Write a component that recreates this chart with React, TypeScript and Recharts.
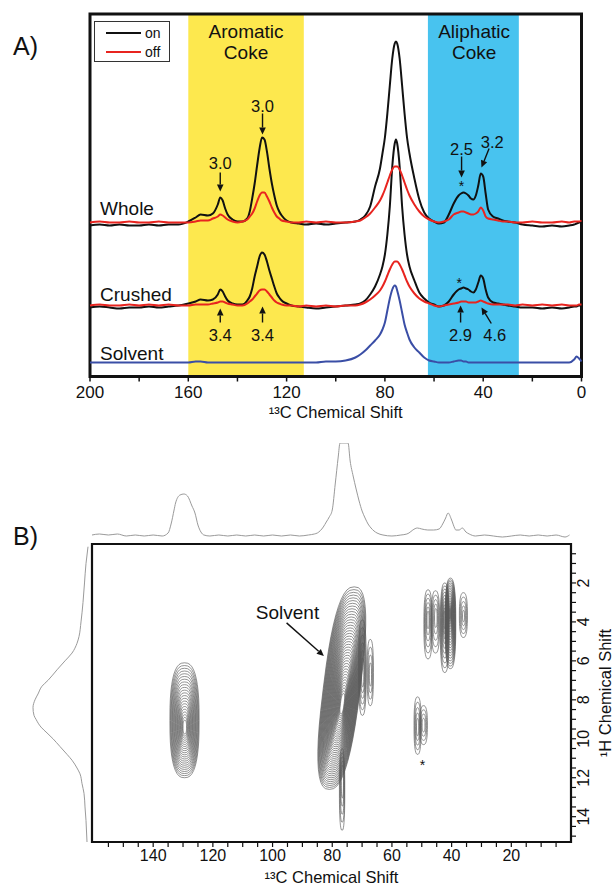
import React from 'react';
import {
  LineChart, Line, ComposedChart, Scatter, XAxis, YAxis,
  ReferenceArea, ReferenceDot, ReferenceLine, Legend,
} from 'recharts';

const FONT = '"Liberation Sans", Arial, Helvetica, sans-serif';
const INK = '#111111';
const YELLOW = '#FDE84E';
const CYAN = '#48C3EF';
const RED = '#E8241F';
const BLUE_LINE = '#3A4EA6';
const GREY = '#9a9a9a';
const CONTOUR = '#585858';

// ================= Panel A : 1D 13C spectra =================
// intensity of each trace above its own baseline
const ppmA = [200,196,192,188,184,180,176,172,168,164, 160,157,155,152,150,148,147,146,145,144,142,140, 138,136,135,134,133,132,131,130,129,128,127,126,125,124,123,122,120,118, 115,112,108,104,100,96, 92,90,88,86,84,82,81,80,79,78,77,76,75.5,75,74,73,72,71,70,68,66,64,62,60, 58,56,54,52,50,49,48,47,46,45,44,43,42,41,40,39,38, 36,34,32,30,27,24,20,16,12,8,5,3,2,1,0];
const wholeOn = [-2,-1,-2,-1,-2,-2,-1,-2,-1,-1, 2,6,9,8,10,19,26,23,15,9,4,2, 2,5,12,25,40,58,75,86,84,72,55,40,28,18,12,8,3,1, 0,-1,0,-1,0,1, 2,4,8,17,37,55,70,86,110,138,165,180,182,180,165,138,110,86,70,45,24,11,5,2, 0,1,9,20,28,30,31,30,28,25,24,28,38,50,47,30,14, 7,5,3,2,1,-1,-2,-3,-2,-3,-2,-1,0,1,2];
const wholeOff = [1,2,1,1,2,1,1,2,1,1, 1,2,3,3,5,7,9,8,6,4,2,1, 2,4,7,10,15,22,28,31,31,27,22,16,11,7,5,3,2,1, 1,2,1,2,1,1, 2,3,6,10,16,23,28,34,41,48,54,57,57,57,54,48,41,34,28,19,12,7,4,2, 1,2,4,9,11,12,12,11,10,9,9,10,12,16,13,7,5, 4,3,2,2,1,1,2,1,1,2,1,2,2,2,3];
const crushedOn = [-1,0,-1,-2,-1,-1,0,-1,0,1, 3,5,7,6,7,12,17,15,10,6,3,2, 2,6,10,18,30,40,50,54,52,45,36,28,20,13,9,6,3,1, 0,-1,-2,-1,0,1, 2,3,6,12,20,32,40,52,72,100,140,163,167,163,140,100,72,52,40,26,14,8,4,2, 0,1,5,12,17,18,19,18,17,15,14,17,24,31,28,17,9, 4,3,2,1,0,-1,-1,-2,-1,-2,-1,0,0,1,1];
const crushedOff = [1,2,1,1,2,1,2,1,2,1, 1,2,2,2,3,4,5,5,4,3,2,1, 1,3,5,7,10,13,16,17,17,15,12,9,6,4,3,2,1,1, 0,1,0,1,0,1, 1,2,4,7,11,16,20,25,31,37,42,45,45,45,42,37,31,25,20,13,8,5,3,1, 0,1,2,3,4,5,5,5,4,4,4,4,5,6,5,4,3, 2,2,2,2,1,2,1,2,1,2,1,1,1,2,2];
const solventTrace = [0,0,0,0,0,0,0,0,0,0, 0,1,1,0,0,0,0,0,0,0,0,0, 0,0,0,0,0,0,0,0,0,0,0,0,0,0,0,0,0,0, 0,0,0,1,1,2, 5,8,12,17,22,28,33,40,52,64,73,77,76,72,62,50,38,30,23,15,10,5,2,1, 0,0,0,1,2,2,1,1,0,0,0,0,0,0,0,0,0, 0,0,0,0,0,0,0,0,0,0,0,3,6,4,1];
const traceOffsets = { whole: 153, crushed: 70, solvent: 14 };
const Y_MAX_A = 362.5;
const aromaticRange = [160, 113];
const aliphaticRange = [62.5, 25.5];
const ticksA = [0, 20, 40, 60, 80, 100, 120, 140, 160, 180, 200];
const legendItems = [
  { name: 'on', color: INK },
  { name: 'off', color: RED },
];

const tableA = ppmA.map((ppm, i) => ({
  ppm,
  wholeOn: wholeOn[i] + traceOffsets.whole,
  wholeOff: wholeOff[i] + traceOffsets.whole,
  crushedOn: crushedOn[i] + traceOffsets.crushed,
  crushedOff: crushedOff[i] + traceOffsets.crushed,
  solvent: solventTrace[i] + traceOffsets.solvent,
}));

const sampleLabels = [
  { text: 'Whole', ppm: 195.9, y: 168.5 },
  { text: 'Crushed', ppm: 195.9, y: 82 },
  { text: 'Solvent', ppm: 195.9, y: 23 },
];
const regionLabels = [
  { text: 'Aromatic', ppm: 136.5, y: 345.5 },
  { text: 'Coke', ppm: 136.5, y: 324.5 },
  { text: 'Aliphatic', ppm: 43.7, y: 345.5 },
  { text: 'Coke', ppm: 43.7, y: 324.5 },
];
const ratioLabels = [
  { ppm: 147, y: 214, text: '3.0' },
  { ppm: 129.8, y: 271, text: '3.0' },
  { ppm: 48.8, y: 228, text: '2.5' },
  { ppm: 36.3, y: 235, text: '3.2' },
  { ppm: 147, y: 42, text: '3.4' },
  { ppm: 129.8, y: 42, text: '3.4' },
  { ppm: 49.2, y: 42, text: '2.9' },
  { ppm: 35.3, y: 42, text: '4.6' },
];
const ratioArrows = [
  { from: [147, 204], to: [147, 185] },
  { from: [129.8, 263], to: [129.8, 242] },
  { from: [48.8, 220], to: [48.8, 199] },
  { from: [37.6, 228], to: [40.7, 209] },
  { from: [147, 54], to: [147, 68] },
  { from: [129.8, 54], to: [129.8, 70] },
  { from: [49.2, 54], to: [49.2, 71] },
  { from: [36.7, 53], to: [40.7, 69] },
];
const starMarksA = [
  { ppm: 48.8, y: 191 },
  { ppm: 49.8, y: 94 },
];

// ================= Panel B : 2D HETCOR =================
const ppmTop = [160.5,158,155,152,149,146,143,140,137,135,134,133,132.5,131,129.7,128.5,127,126,125,124,123,121,118,115,112,109,106,103,100,97,94,91,88,86,85,83,82,81,80,79,78,77.4,74.7,74,73,72,71,70,69,68,67,66,65,63,60,57,55,54.3,53,51.5,50,48,46,44.2,43,42,41.2,40,39,38.6,37.5,36.4,35.2,34.1,32,29,26,23,20,17,14,11,8,5,2,0.5];
const projTop = [1,2,1,2,0,1,0,1,0,3,12,26,33,41,42,40,30,23,11,4,1,0,1,0,1,0,1,0,1,0,1,0,1,2,3,9,14,19,26,52,79,93,93,75,60,47,35,25,18,12,8,5,3,1,0,1,2,3,6,8,7,6,6,7,12,18,23,16,8,6,6,8,4,2,0,1,0,-1,0,1,0,1,0,1,-1,1];
const h1Left = [0.14,1,2,3,4,4.75,5.1,5.6,6,6.46,7,7.3,7.7,8,8.4,8.8,9,9.4,9.7,10,10.4,10.8,11.1,11.5,11.8,12.3,12.8,13.5,14.2,15.3];
const projLeft = [0,2,3.5,5,7,9,11,16,23,31,40,46,50,53,55,54,52,47,41,35,28,21,16,11,8,6,4,3,2,1];

// contour peaks: 13C extent, 1H extent, position of innermost contour, number of levels, tilt (deg)
const contourPeaks = [
  { c13: [124.6, 134.4], h1: [6.1, 12.0], core: [129.4, 9.4], levels: 22, minScale: 0.12, tilt: 0 },
  { c13: [70.6, 83.0], h1: [2.2, 12.6], core: [76.0, 8.2], levels: 40, minScale: 0.1, tilt: -7 },
  { c13: [68.6, 71.2], h1: [3.9, 8.8], core: [69.8, 6.6], levels: 6, minScale: 0.3, tilt: 0 },
  { c13: [66.2, 68.3], h1: [4.9, 8.3], core: [67.2, 6.7], levels: 4, minScale: 0.35, tilt: 0 },
  { c13: [75.8, 77.6], h1: [10.5, 14.7], core: [76.6, 12.2], levels: 5, minScale: 0.4, tilt: 0 },
  { c13: [38.6, 42.2], h1: [1.75, 6.4], core: [40.6, 3.6], levels: 20, minScale: 0.1, tilt: 0 },
  { c13: [40.8, 43.8], h1: [2.0, 6.6], core: [42.2, 3.9], levels: 10, minScale: 0.2, tilt: 0 },
  { c13: [46.5, 49.3], h1: [2.35, 5.9], core: [47.9, 3.9], levels: 6, minScale: 0.25, tilt: 0 },
  { c13: [44.0, 46.8], h1: [2.4, 5.6], core: [45.3, 3.8], levels: 5, minScale: 0.3, tilt: 0 },
  { c13: [34.7, 37.4], h1: [2.5, 4.8], core: [36.0, 3.7], levels: 5, minScale: 0.25, tilt: 0 },
  { c13: [50.2, 52.6], h1: [7.85, 10.8], core: [51.4, 9.4], levels: 5, minScale: 0.3, tilt: 0 },
  { c13: [48.1, 50.7], h1: [8.3, 10.3], core: [49.4, 9.3], levels: 4, minScale: 0.35, tilt: 0 },
];
const solventLabelB = { ppm: 95, h1: 3.5, text: 'Solvent' };
const solventArrowB = { from: [95.3, 4.05], to: [82.8, 5.75] };
const starMarkB = { ppm: 49.8, h1: 11.35 };
const X_MAX_B = 160.5;
const Y_MAX_B = 15.3;
const ticksBX = [5,10,15,20,25,30,35,40,45,50,55,60,65,70,75,80,85,90,95,100,105,110,115,120,125,130,135,140,145,150,155];
const ticksBY = [0.5,1,1.5,2,2.5,3,3.5,4,4.5,5,5.5,6,6.5,7,7.5,8,8.5,9,9.5,10,10.5,11,11.5,12,12.5,13,13.5,14,14.5,15];

const tableTop = ppmTop.map((ppm, i) => ({ ppm, v: projTop[i] }));
const tableLeft = h1Left.map((h1, i) => ({ h1, v: projLeft[i] }));
const peakCores = contourPeaks.map((pk) => ({ x: pk.core[0], y: pk.core[1] }));

// ================= render helpers =================
const textShape = (text: string, size: number, anchor = 'middle') => (p: any) => (
  <text x={p.cx} y={p.cy} textAnchor={anchor} dominantBaseline="central"
    fontSize={size} fontFamily={FONT} fill={INK}>{text}</text>
);

const arrowShape = (p: any) => {
  const { x1, y1, x2, y2 } = p;
  if (![x1, y1, x2, y2].every((v) => Number.isFinite(v))) return <g />;
  const a = Math.atan2(y2 - y1, x2 - x1);
  const L = 7, W = 3.3;
  const bx = x2 - L * Math.cos(a), by = y2 - L * Math.sin(a);
  const nx = -Math.sin(a) * W, ny = Math.cos(a) * W;
  return (
    <g>
      <line x1={x1} y1={y1} x2={bx} y2={by} stroke={INK} strokeWidth={1.4} />
      <polygon points={`${x2},${y2} ${bx + nx},${by + ny} ${bx - nx},${by - ny}`} fill={INK} />
    </g>
  );
};

// rounded (super-elliptic) contour ring path
const ringPath = (cx: number, cy: number, a: number, b: number) => {
  const n = 2.6, steps = 44;
  let d = '';
  for (let k = 0; k <= steps; k++) {
    const th = (2 * Math.PI * k) / steps;
    const c = Math.cos(th), s = Math.sin(th);
    const px = cx + a * Math.sign(c) * Math.pow(Math.abs(c), 2 / n);
    const py = cy + b * Math.sign(s) * Math.pow(Math.abs(s), 2 / n);
    d += (k === 0 ? 'M' : 'L') + px.toFixed(2) + ',' + py.toFixed(2);
  }
  return d + 'Z';
};

const contourShape = (pk: any) => (p: any) => {
  const { x, y, width, height } = p;
  if (![x, y, width, height].every((v) => Number.isFinite(v))) return <g />;
  const cx0 = x + width / 2, cy0 = y + height / 2;
  const fx = (pk.c13[1] - pk.core[0]) / (pk.c13[1] - pk.c13[0]);
  const fy = (pk.core[1] - pk.h1[0]) / (pk.h1[1] - pk.h1[0]);
  const cxi = x + fx * width, cyi = y + fy * height;
  const rings = [];
  for (let i = 0; i < pk.levels; i++) {
    const t = pk.levels === 1 ? 0 : i / (pk.levels - 1);
    const s = 1 - t * (1 - pk.minScale);
    rings.push(
      <path key={i} d={ringPath(cx0 + (cxi - cx0) * t, cy0 + (cyi - cy0) * t, (s * width) / 2, (s * height) / 2)}
        fill="none" stroke={CONTOUR} strokeWidth={0.65} />
    );
  }
  return (
    <g transform={`translate(${cx0},${cy0}) skewX(${pk.tilt}) translate(${-cx0},${-cy0})`}>{rings}</g>
  );
};

const TickA = (p: any) => {
  const v = p.payload?.value;
  if (v % 40 !== 0) return null;
  return <text x={p.x} y={p.y + 14} textAnchor="middle" fontSize={17} fontFamily={FONT} fill={INK}>{v}</text>;
};
const TickBX = (p: any) => {
  const v = p.payload?.value;
  if (v % 20 !== 0) return null;
  return <text x={p.x} y={p.y + 12} textAnchor="middle" fontSize={16} fontFamily={FONT} fill={INK}>{v}</text>;
};
const TickBY = (p: any) => {
  const v = p.payload?.value;
  if (v % 2 !== 0) return null;
  const cx = p.x + 6, cy = p.y;
  return <text x={cx} y={cy} transform={`rotate(-90 ${cx} ${cy})`} textAnchor="middle" dominantBaseline="central"
    fontSize={16} fontFamily={FONT} fill={INK}>{v}</text>;
};

const titleA = (p: any) => {
  const vb = p.viewBox || p;
  return <text x={vb.x + vb.width / 2} y={vb.y + 41} textAnchor="middle" fontSize={16.5} fontFamily={FONT} fill={INK}>¹³C Chemical Shift</text>;
};
const titleBX = (p: any) => {
  const vb = p.viewBox || p;
  return <text x={vb.x + vb.width / 2} y={vb.y + 41} textAnchor="middle" fontSize={16.5} fontFamily={FONT} fill={INK}>¹³C Chemical Shift</text>;
};
const titleBY = (p: any) => {
  const vb = p.viewBox || p;
  const cx = vb.x + 34, cy = vb.y + vb.height / 2;
  return <text x={cx} y={cy} transform={`rotate(-90 ${cx} ${cy})`} textAnchor="middle" dominantBaseline="central"
    fontSize={16.5} fontFamily={FONT} fill={INK}>¹H Chemical Shift</text>;
};

const LegendBox = () => (
  <svg width={78} height={43} style={{ display: 'block' }}>
    <rect x={0.5} y={0.5} width={75} height={40} fill="#fff" stroke="#333" strokeWidth={1} />
    {legendItems.map((it, i) => (
      <g key={it.name}>
        <line x1={12} x2={47} y1={12 + i * 19} y2={12 + i * 19} stroke={it.color} strokeWidth={2} />
        <text x={51} y={12 + i * 19} dominantBaseline="central" fontSize={14} fontFamily={FONT} fill={INK}>{it.name}</text>
      </g>
    ))}
  </svg>
);

const emptyShape = () => <g />;

export default function App() {
  const lineCommon = { type: 'monotone' as const, dot: false, activeDot: false, isAnimationActive: false, strokeWidth: 2 };
  return (
    <div style={{ position: 'absolute', left: 0, top: 0, width: 614, height: 886, background: '#fff', fontFamily: FONT }}>
      {/* Panel A */}
      <div style={{ position: 'absolute', left: 0, top: 0 }}>
        <LineChart width={614} height={430} data={tableA} margin={{ top: 14, right: 32.5, bottom: 8.5, left: 90 }}>
          <ReferenceArea x1={aromaticRange[0]} x2={aromaticRange[1]} y1={0} y2={Y_MAX_A} fill={YELLOW} fillOpacity={1} stroke="none" />
          <ReferenceArea x1={aliphaticRange[0]} x2={aliphaticRange[1]} y1={0} y2={Y_MAX_A} fill={CYAN} fillOpacity={1} stroke="none" />
          <XAxis dataKey="ppm" type="number" domain={[0, 200]} reversed ticks={ticksA} interval={0}
            tickSize={5} tickLine={{ stroke: INK, strokeWidth: 1.5 }} axisLine={false} tick={<TickA />} height={45}
            label={titleA} />
          <YAxis type="number" domain={[0, Y_MAX_A]} hide />
          <Legend layout="vertical" align="center" verticalAlign="middle"
            wrapperStyle={{ position: 'absolute', left: 94, top: 21, width: 78, height: 43 }}
            content={() => <LegendBox />} />
          <Line dataKey="solvent" name="solvent" legendType="none" stroke={BLUE_LINE} {...lineCommon} />
          <Line dataKey="crushedOn" name="on" stroke={INK} {...lineCommon} />
          <Line dataKey="wholeOn" name="on" stroke={INK} {...lineCommon} />
          <Line dataKey="crushedOff" name="off" stroke={RED} {...lineCommon} />
          <Line dataKey="wholeOff" name="off" stroke={RED} {...lineCommon} />
          {sampleLabels.map((l, i) => (
            <ReferenceDot key={'s' + i} x={l.ppm} y={l.y} r={1} shape={textShape(l.text, 19, 'start')} />
          ))}
          {regionLabels.map((l, i) => (
            <ReferenceDot key={'r' + i} x={l.ppm} y={l.y} r={1} shape={textShape(l.text, 19)} />
          ))}
          {ratioLabels.map((l, i) => (
            <ReferenceDot key={'q' + i} x={l.ppm} y={l.y} r={1} shape={textShape(l.text, 16.5)} />
          ))}
          {starMarksA.map((l, i) => (
            <ReferenceDot key={'st' + i} x={l.ppm} y={l.y} r={1} shape={textShape('*', 14)} />
          ))}
          {ratioArrows.map((a, i) => (
            <ReferenceLine key={'a' + i} segment={[{ x: a.from[0], y: a.from[1] }, { x: a.to[0], y: a.to[1] }]} shape={arrowShape} />
          ))}
          <ReferenceArea x1={0} x2={200} y1={0} y2={Y_MAX_A} fill="none" stroke={INK} strokeWidth={3} />
        </LineChart>
      </div>

      {/* Panel B : top projection */}
      <div style={{ position: 'absolute', left: 0, top: 440 }}>
        <LineChart width={614} height={100} data={tableTop} margin={{ top: 3, right: 43, bottom: 1, left: 92 }}>
          <XAxis dataKey="ppm" type="number" domain={[0, X_MAX_B]} reversed hide />
          <YAxis type="number" domain={[-3, 93]} hide allowDataOverflow />
          <Line dataKey="v" stroke={GREY} {...lineCommon} strokeWidth={1} />
        </LineChart>
      </div>

      {/* Panel B : left projection */}
      <div style={{ position: 'absolute', left: 0, top: 520 }}>
        <LineChart layout="vertical" width={92} height={366} data={tableLeft} margin={{ top: 24, right: 4, bottom: 44, left: 28 }}>
          <XAxis type="number" domain={[0, 60]} reversed hide />
          <YAxis type="number" dataKey="h1" domain={[0, Y_MAX_B]} hide />
          <Line dataKey="v" stroke={GREY} {...lineCommon} strokeWidth={1} />
        </LineChart>
      </div>

      {/* Panel B : 2D contour map */}
      <div style={{ position: 'absolute', left: 0, top: 520 }}>
        <ComposedChart width={614} height={366} data={peakCores} margin={{ top: 24, right: 3, bottom: 0, left: 92 }}>
          <XAxis type="number" dataKey="x" domain={[0, X_MAX_B]} reversed ticks={ticksBX} interval={0}
            tickSize={5} tickLine={{ stroke: INK, strokeWidth: 1.2 }} axisLine={false} tick={<TickBX />} height={44}
            label={titleBX} allowDataOverflow />
          <YAxis type="number" dataKey="y" orientation="right" domain={[0, Y_MAX_B]} reversed ticks={ticksBY} interval={0}
            tickSize={5} tickLine={{ stroke: INK, strokeWidth: 1.2 }} axisLine={false} tick={<TickBY />} width={40}
            label={titleBY} allowDataOverflow />
          {contourPeaks.map((pk, i) => (
            <ReferenceArea key={'c' + i} x1={pk.c13[0]} x2={pk.c13[1]} y1={pk.h1[0]} y2={pk.h1[1]}
              shape={contourShape(pk)} />
          ))}
          <Scatter data={peakCores} dataKey="y" isAnimationActive={false} shape={emptyShape} legendType="none" />
          <ReferenceDot x={solventLabelB.ppm} y={solventLabelB.h1} r={1} shape={textShape(solventLabelB.text, 19)} />
          <ReferenceLine segment={[{ x: solventArrowB.from[0], y: solventArrowB.from[1] }, { x: solventArrowB.to[0], y: solventArrowB.to[1] }]} shape={arrowShape} />
          <ReferenceDot x={starMarkB.ppm} y={starMarkB.h1} r={1} shape={textShape('*', 14)} />
          <ReferenceArea x1={0} x2={X_MAX_B} y1={0} y2={Y_MAX_B} fill="none" stroke={INK} strokeWidth={2.2} />
        </ComposedChart>
      </div>

      {/* panel letters */}
      <svg width={614} height={886} style={{ position: 'absolute', left: 0, top: 0, pointerEvents: 'none' }}>
        <text x={13} y={55} fontSize={25} fontFamily={FONT} fill={INK}>A)</text>
        <text x={13} y={545} fontSize={25} fontFamily={FONT} fill={INK}>B)</text>
      </svg>
    </div>
  );
}
